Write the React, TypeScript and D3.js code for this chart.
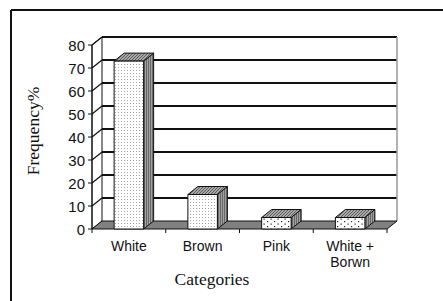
import * as d3 from "d3";

const W = 443;
const H = 301;
const categories = ["White", "Brown", "Pink", "White + Borwn"];
const values = [73, 15, 5, 5];
const yTicks = [0, 10, 20, 30, 40, 50, 60, 70, 80];
const FRONT_FILL = ["dense", "dense", "sparse", "sparse"];

const DX = 10;
const DY = -8;
const FRONT = { left: 92, right: 387, top: 45, bottom: 229 };

const SANS = "'Liberation Sans', Arial, sans-serif";
const SERIF = "'Liberation Serif', 'Times New Roman', serif";

export default function App() {
  const x = d3
    .scaleBand<string>()
    .domain(categories)
    .range([FRONT.left, FRONT.right])
    .paddingInner(0.6)
    .paddingOuter(0.3);
  const y = d3.scaleLinear().domain([0, 80]).range([FRONT.bottom, FRONT.top]);
  const step = x.step();
  const bw = x.bandwidth();

  const backL = FRONT.left + DX;
  const backR = FRONT.right + DX;

  return (
    <div style={{ position: "absolute", left: 0, top: 0 }}>
      <svg width={W} height={H} style={{ display: "block", background: "#fff" }}>
        <defs>
          <pattern id="dense" width="3" height="3" patternUnits="userSpaceOnUse">
            <rect width="3" height="3" fill="#fff" />
            <rect x="1" y="1" width="1" height="1" fill="#a8a8a8" />
          </pattern>
          <pattern id="sparse" width="7" height="5" patternUnits="userSpaceOnUse">
            <rect width="7" height="5" fill="#fff" />
            <rect x="1" y="1" width="1.2" height="1.2" fill="#222" />
            <rect x="4.5" y="3.5" width="1.2" height="1.2" fill="#222" />
          </pattern>
          <pattern id="topHatch" width="3" height="3" patternUnits="userSpaceOnUse">
            <rect width="3" height="3" fill="#a8a8a8" />
            <path d="M0,3 L3,0" stroke="#555" strokeWidth="0.9" />
          </pattern>
          <pattern id="sideHatch" width="2" height="3" patternUnits="userSpaceOnUse">
            <rect width="2" height="3" fill="#a0a0a0" />
            <rect width="1" height="3" fill="#686868" />
          </pattern>
        </defs>

        {/* outer frame */}
        <line x1={11} y1={10} x2={W} y2={10} stroke="#111" strokeWidth={2} />
        <line x1={11} y1={10} x2={11} y2={H} stroke="#111" strokeWidth={2} />

        {/* back wall */}
        <rect x={backL} y={y(80) + DY} width={backR - backL} height={y(0) - y(80)} fill="#fff" />
        {/* left wall */}
        <polygon
          points={`${FRONT.left},${y(0)} ${FRONT.left},${y(80)} ${backL},${y(80) + DY} ${backL},${y(0) + DY}`}
          fill="#fff"
          stroke="#111"
          strokeWidth={1}
        />
        {yTicks.filter((t) => t > 0).map((t) => (
          <g key={t}>
            <line x1={FRONT.left} y1={y(t)} x2={backL} y2={y(t) + DY} stroke="#111" strokeWidth={1.2} />
            <line x1={backL} y1={y(t) + DY} x2={backR} y2={y(t) + DY} stroke="#111" strokeWidth={1.8} />
          </g>
        ))}
        <line x1={backR} y1={y(80) + DY} x2={backR} y2={y(0) + DY} stroke="#999" strokeWidth={1.5} />

        {/* floor */}
        <polygon
          points={`${FRONT.left},${y(0)} ${FRONT.right},${y(0)} ${backR},${y(0) + DY} ${backL},${y(0) + DY}`}
          fill="#808080"
          stroke="#111"
          strokeWidth={1}
        />

        {/* bars */}
        {categories.map((c, i) => {
          const x0 = x(c) as number;
          const yt = y(values[i]);
          const yb = y(0);
          return (
            <g key={c} stroke="#111" strokeWidth={1} strokeLinejoin="round">
              <polygon
                points={`${x0 + bw},${yt} ${x0 + bw + DX},${yt + DY} ${x0 + bw + DX},${yb + DY} ${x0 + bw},${yb}`}
                fill="url(#sideHatch)"
              />
              <polygon
                points={`${x0},${yt} ${x0 + bw},${yt} ${x0 + bw + DX},${yt + DY} ${x0 + DX},${yt + DY}`}
                fill="url(#topHatch)"
              />
              <rect x={x0} y={yt} width={bw} height={yb - yt} fill={`url(#${FRONT_FILL[i]})`} />
            </g>
          );
        })}

        {/* y axis */}
        <line x1={FRONT.left} y1={y(0)} x2={FRONT.left} y2={y(80)} stroke="#111" strokeWidth={1} />
        {yTicks.map((t) => (
          <g key={t}>
            <line x1={FRONT.left - 4} y1={y(t)} x2={FRONT.left} y2={y(t)} stroke="#111" strokeWidth={1} />
            <text
              x={FRONT.left - 7}
              y={y(t) + 5.5}
              textAnchor="end"
              fontFamily={SANS}
              fontSize={15}
              fill="#111"
            >
              {t}
            </text>
          </g>
        ))}

        {/* x axis ticks */}
        {d3.range(categories.length + 1).map((i) => (
          <line
            key={i}
            x1={FRONT.left + i * step}
            y1={y(0)}
            x2={FRONT.left + i * step}
            y2={y(0) + 4}
            stroke="#111"
            strokeWidth={1}
          />
        ))}
        {categories.map((c) => {
          const cx = (x(c) as number) + bw / 2;
          const lines = c === "White + Borwn" ? ["White +", "Borwn"] : [c];
          return (
            <text key={c} x={cx} y={250.5} textAnchor="middle" fontFamily={SANS} fontSize={14} fill="#111">
              {lines.map((l, j) => (
                <tspan key={j} x={cx} dy={j === 0 ? 0 : 16}>
                  {l}
                </tspan>
              ))}
            </text>
          );
        })}

        {/* axis titles */}
        <text x={212} y={285} textAnchor="middle" fontFamily={SERIF} fontSize={17.5} fill="#111">
          Categories
        </text>
        <text
          transform={`translate(39,131) rotate(-90)`}
          textAnchor="middle"
          fontFamily={SERIF}
          fontSize={17.5}
          fill="#111"
        >
          Frequency%
        </text>
      </svg>
    </div>
  );
}
